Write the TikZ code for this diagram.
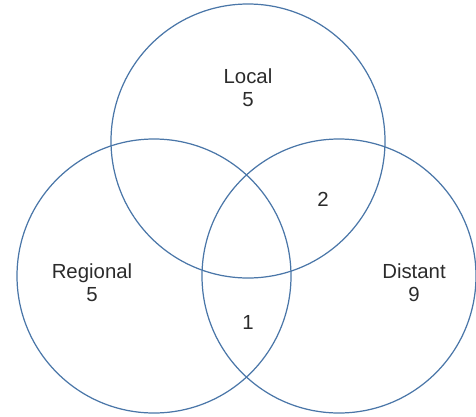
\documentclass[tikz,border=0pt]{standalone}
\usepackage{fontspec}
\setmainfont{Liberation Sans}
\usepackage{xcolor}
\usepackage{tikz}
\usetikzlibrary{positioning}
\definecolor{ringblue}{HTML}{4A76A8}
\definecolor{labelgray}{HTML}{2B2B2B}

\begin{document}
\begin{tikzpicture}[x=0.02cm, y=-0.02cm,
    ring/.style={draw=ringblue, line width=0.7pt},
    setlabel/.style={text=labelgray, font=\fontsize{11.6}{13}\selectfont, align=center}]
    % Rahmen
    \useasboundingbox (0,0) rectangle (476,416);

    % Drei Kreise
    \draw[ring] (248,141) circle (137);
    \draw[ring] (154,276) circle (137);
    \draw[ring] (339,276) circle (137);

    % Beschriftungen der Mengen
    \node[setlabel] (local) at (248,88) {Local\\5};
    \node[setlabel] (regional) at (92,283) {Regional\\5};
    \node[setlabel] (distant) at (414,283) {Distant\\9};

    % Schnittmengen
    \node[setlabel] (localdistant) at (323,199) {2};
    \node[setlabel] (regionaldistant) at (248,322) {1};
\end{tikzpicture}
\end{document}
